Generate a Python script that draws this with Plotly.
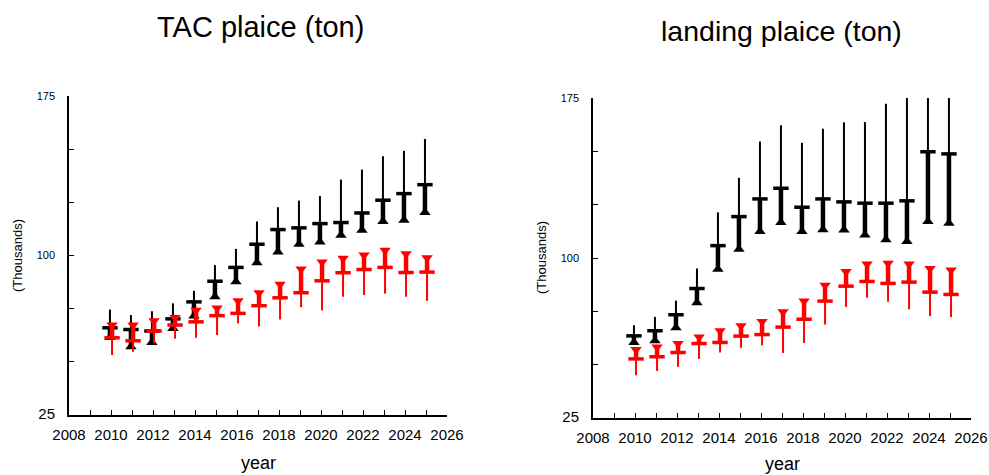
import plotly.graph_objects as go

years = list(range(2010, 2026))

# TAC panel (thousand tonnes)
tac_black_top = [74.6, 72.0, 73.8, 77.5, 83.4, 95.5, 103.1, 116.0, 122.7, 125.8, 128.0, 135.7, 140.4, 146.7, 149.2, 154.8]
tac_black_mid = [66.0, 65.2, 64.5, 70.2, 78.2, 87.9, 94.4, 105.3, 112.2, 113.0, 115.0, 115.5, 120.0, 126.0, 129.1, 133.3]
tac_black_low = [61.5, 57.1, 59.1, 65.7, 71.5, 80.6, 87.6, 96.6, 101.7, 105.3, 106.4, 109.5, 111.9, 116.0, 116.6, 120.2]
tac_red_top = [67.3, 67.3, 69.3, 70.9, 74.3, 75.3, 78.7, 82.5, 86.5, 93.7, 97.0, 98.7, 100.2, 102.5, 100.8, 98.9]
tac_red_mid = [61.3, 59.9, 64.5, 67.3, 68.8, 71.7, 72.8, 76.4, 80.1, 82.5, 88.1, 91.9, 93.4, 94.4, 92.0, 92.2]
tac_red_low = [53.2, 54.7, 58.7, 60.9, 61.3, 62.6, 68.1, 66.6, 69.9, 75.7, 74.2, 80.6, 81.4, 82.1, 80.6, 78.7]

# Landing panel (thousand tonnes)
lan_black_top = [68.5, 72.4, 80.0, 95.1, 121.4, 137.6, 154.6, 162.2, 154.0, 160.6, 163.6, 163.7, 172.3, 185.0, 200.0, 195.0]
lan_black_mid = [63.5, 65.9, 73.4, 85.7, 105.8, 119.4, 127.7, 132.7, 123.8, 127.7, 126.3, 125.7, 125.7, 126.8, 149.8, 148.8]
lan_black_low = [60.4, 61.2, 67.3, 79.0, 94.7, 104.1, 112.4, 116.6, 112.4, 113.3, 113.1, 110.8, 108.5, 107.7, 117.1, 116.3]
lan_red_top = [57.1, 58.3, 59.9, 63.0, 65.9, 68.2, 70.2, 74.8, 79.8, 87.2, 93.7, 97.2, 97.5, 97.2, 95.1, 94.4]
lan_red_mid = [52.7, 53.7, 55.7, 59.9, 60.4, 63.4, 64.1, 67.6, 71.3, 79.8, 86.8, 89.0, 88.1, 88.7, 84.0, 82.9]
lan_red_low = [45.0, 47.1, 49.0, 52.7, 55.7, 57.9, 59.1, 55.5, 60.2, 68.8, 77.1, 81.4, 79.5, 75.9, 72.8, 72.3]

ytick_vals = [25, 50, 75, 100, 125, 150, 175]
ytick_text = ['<span style="font-size:15px">25</span>', "", "", "100", "", "", "175"]
xtick_vals = list(range(2008, 2027))
xtick_text = [str(v) if v % 2 == 0 else "" for v in xtick_vals]

W, H = 989, 475
FONT = "Liberation Sans, Arial, sans-serif"


def px(x):
    return x / W


def py(y):
    return 1 - y / H


fig = go.Figure()


def segs(xs, a, b):
    X, Y = [], []
    for x, p, q in zip(xs, a, b):
        X += [x, x, None]
        Y += [p, q, None]
    return X, Y


def add_series(xa, ya, xs, mid, tri, whisk, color, sym):
    X, Y = segs(xs, mid, whisk)
    fig.add_trace(go.Scatter(x=X, y=Y, mode="lines", line=dict(color=color, width=2),
                             xaxis=xa, yaxis=ya, hoverinfo="skip", showlegend=False))
    X, Y = segs(xs, mid, tri)
    fig.add_trace(go.Scatter(x=X, y=Y, mode="lines", line=dict(color=color, width=4.5),
                             xaxis=xa, yaxis=ya, hoverinfo="skip", showlegend=False))
    fig.add_trace(go.Scatter(x=xs, y=mid, mode="markers",
                             marker=dict(symbol="line-ew", size=11, line=dict(color=color, width=3.5)),
                             xaxis=xa, yaxis=ya, showlegend=False))
    fig.add_trace(go.Scatter(x=xs, y=tri, mode="markers",
                             marker=dict(symbol=sym, size=10, color=color),
                             xaxis=xa, yaxis=ya, showlegend=False))


xb = [y - 0.05 for y in years]
xr = [y + 0.05 for y in years]

add_series("x", "y", xb, tac_black_mid, tac_black_low, tac_black_top, "black", "triangle-up")
add_series("x", "y", xr, tac_red_mid, tac_red_top, tac_red_low, "red", "triangle-down")
add_series("x2", "y2", xb, lan_black_mid, lan_black_low, lan_black_top, "black", "triangle-up")
add_series("x2", "y2", xr, lan_red_mid, lan_red_top, lan_red_low, "red", "triangle-down")


def xaxis(domain, anchor):
    return dict(domain=domain, anchor=anchor, range=[2008, 2026], tickvals=xtick_vals,
                ticktext=xtick_text, ticks="inside", ticklen=5, tickwidth=1.2, tickcolor="black",
                showline=True, linecolor="black", linewidth=1.5, showgrid=False, zeroline=False,
                automargin=False, ticklabelstandoff=5, ticklabeloverflow="allow",
                tickfont=dict(size=15, color="black", family=FONT))


def yaxis(domain, anchor):
    return dict(domain=domain, anchor=anchor, range=[25, 175], tickvals=ytick_vals,
                ticktext=ytick_text, ticks="inside", ticklen=5, tickwidth=1.2, tickcolor="black",
                showline=True, linecolor="black", linewidth=1.5, showgrid=False, zeroline=False,
                automargin=False, ticklabelstandoff=10,
                tickfont=dict(size=11, color="black", family=FONT))


fig.update_layout(
    width=W, height=H, autosize=False,
    margin=dict(l=0, r=0, t=0, b=0, pad=0, autoexpand=False),
    paper_bgcolor="white", plot_bgcolor="white",
    font=dict(family=FONT, color="black"),
    xaxis=xaxis([px(69), px(447)], "y"),
    yaxis=yaxis([py(415), py(96)], "x"),
    xaxis2=xaxis([px(593), px(971)], "y2"),
    yaxis2=yaxis([py(418), py(98)], "x2"),
)

ann = [
    dict(text="TAC plaice (ton)", x=260, y=27, size=29, angle=0),
    dict(text="landing plaice (ton)", x=781, y=31, size=28.5, angle=0),
    dict(text="year", x=258, y=463, size=18, angle=0),
    dict(text="year", x=782, y=464, size=18, angle=0),
    dict(text="(Thousands)", x=17, y=256, size=13, angle=-90),
    dict(text="(Thousands)", x=541, y=258, size=13, angle=-90),
]
for a in ann:
    fig.add_annotation(text=a["text"], x=px(a["x"]), y=py(a["y"]), xref="paper", yref="paper",
                       xanchor="center", yanchor="middle", showarrow=False, textangle=a["angle"],
                       font=dict(size=a["size"], color="black", family=FONT))

fig.write_html(
    "out.html",
    config={"responsive": False, "displayModeBar": False},
    post_script="document.body.style.margin='0';document.documentElement.style.overflow='hidden';document.body.style.overflow='hidden';",
)
